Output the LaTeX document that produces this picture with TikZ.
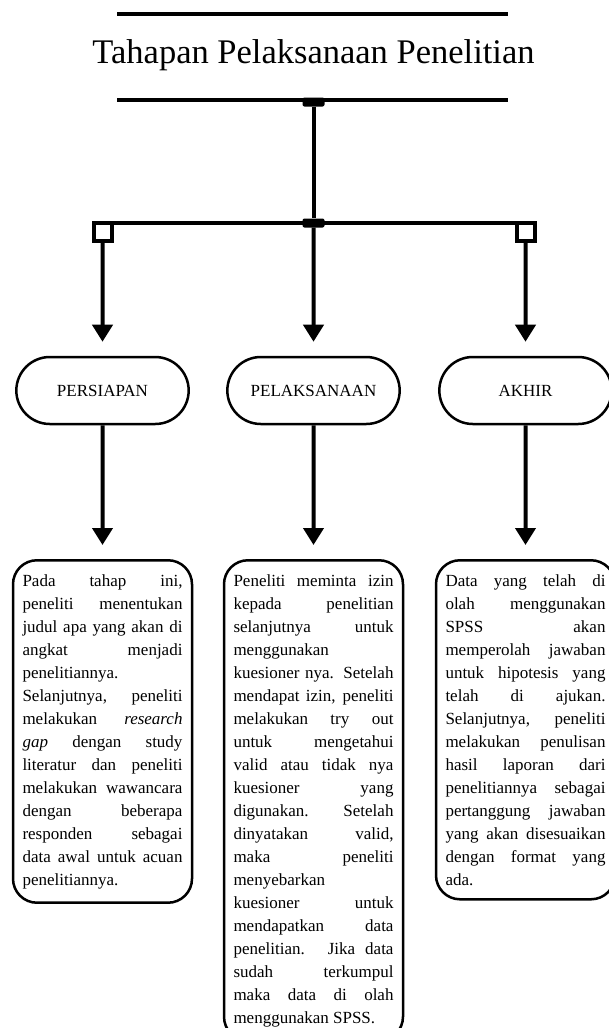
\documentclass[tikz,border=0pt]{standalone}
\usepackage{fontspec}
\setmainfont{Liberation Serif}
\usetikzlibrary{arrows.meta,shapes.misc}
\newcommand{\baris}[1]{{\parfillskip=0pt #1\par}}

\begin{document}
\begin{tikzpicture}[x=1pt,y=-1pt,
		garis/.style={line width=4pt},
		panah/.style={line width=4pt,-{Triangle[width=20pt,length=17pt]},shorten >=14pt},
		tahap/.style={rounded rectangle,draw,line width=2.5pt,minimum width=179pt,minimum height=67pt,font=\fontsize{17}{23}\selectfont},
		isi/.style={draw,line width=2.5pt,rounded corners=24pt,anchor=north,text width=160pt,inner xsep=9.5pt,inner ysep=14pt,align=justify,font={\fontsize{17}{23}\selectfont\hyphenpenalty=10000 }},
		kotak/.style={draw,line width=4pt,minimum size=18pt,inner sep=0pt,outer sep=0pt},
		sambung/.style={fill,rounded corners=2pt,minimum width=22pt,minimum height=9pt,inner sep=0pt}]
		\useasboundingbox (0,0) rectangle (608,1028);
		\draw[garis](117,14) -- (508,14);
		\node[anchor=base,font=\fontsize{34.5}{34.5}\selectfont] (judul) at (313.5,63) {Tahapan Pelaksanaan Penelitian};
		\draw[garis](117,100) -- (508,100);
		\node[sambung] (jTop) at (313.5,102) {};
		\node[sambung] (jMid) at (313.5,223) {};
		\node[kotak] (sqL) at (102.5,232) {};
		\node[kotak] (sqR) at (525.5,232) {};
		\draw[garis](jTop) -- (jMid);
		\draw[garis](sqL.north west) -- (sqR.north east);
		\node[tahap] (persiapan) at (102.5,390.5) {PERSIAPAN};
		\node[tahap] (pelaksanaan) at (313.5,390.5) {PELAKSANAAN};
		\node[tahap] (akhir) at (525.5,390.5) {AKHIR};
		\node[isi] (isiL) at (102.5,559) {\baris{Pada tahap ini,}\baris{peneliti menentukan}\baris{judul apa yang akan di}\baris{angkat menjadi}penelitiannya.\par\baris{Selanjutnya, peneliti}\baris{melakukan \textit{research}}\baris{\textit{gap} dengan study}\baris{literatur dan peneliti}\baris{melakukan wawancara}\baris{dengan beberapa}\baris{responden sebagai}\baris{data awal untuk acuan}penelitiannya.};
		\node[isi] (isiM) at (313.5,559) {\baris{Peneliti meminta izin}\baris{kepada penelitian}\baris{selanjutnya untuk}menggunakan\par\baris{kuesioner nya. Setelah}\baris{mendapat izin, peneliti}\baris{melakukan try out}\baris{untuk mengetahui}\baris{valid atau tidak nya}\baris{kuesioner yang}\baris{digunakan. Setelah}\baris{dinyatakan valid,}\baris{maka peneliti}menyebarkan\par\baris{kuesioner untuk}\baris{mendapatkan data}\baris{penelitian. Jika data}\baris{sudah terkumpul}\baris{maka data di olah}menggunakan SPSS.};
		\node[isi] (isiR) at (525.5,559) {\baris{Data yang telah di}\baris{olah menggunakan}\baris{SPSS akan}\baris{memperolah jawaban}\baris{untuk hipotesis yang}\baris{telah di ajukan.}\baris{Selanjutnya, peneliti}\baris{melakukan penulisan}\baris{hasil laporan dari}\baris{penelitiannya sebagai}\baris{pertanggung jawaban}\baris{yang akan disesuaikan}\baris{dengan format yang}ada.};
		\draw[panah](sqL) -- (persiapan);
		\draw[panah](jMid) -- (pelaksanaan);
		\draw[panah](sqR) -- (akhir);
		\draw[panah](persiapan) -- (isiL);
		\draw[panah](pelaksanaan) -- (isiM);
		\draw[panah](akhir) -- (isiR);
		\end{tikzpicture}
\end{document}
